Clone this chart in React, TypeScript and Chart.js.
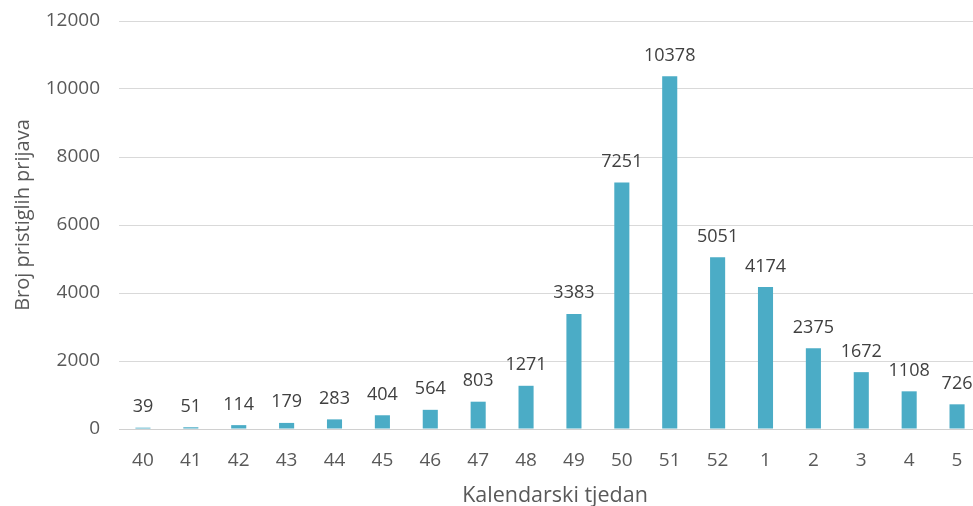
import React, { useEffect, useRef } from "react";
import { Chart, registerables } from "chart.js";

Chart.register(...registerables);

const weeks: string[] = ["40", "41", "42", "43", "44", "45", "46", "47", "48", "49", "50", "51", "52", "1", "2", "3", "4", "5"];
const reports: number[] = [39, 51, 114, 179, 283, 404, 564, 803, 1271, 3383, 7251, 10378, 5051, 4174, 2375, 1672, 1108, 726];
const yTicks: number[] = [0, 2000, 4000, 6000, 8000, 10000, 12000];
const xTitle = "Kalendarski tjedan";
const yTitle = "Broj pristiglih prijava";

const FONT = "'Open Sans', 'DejaVu Sans', sans-serif";

const valueLabels = {
  id: "valueLabels",
  afterDatasetsDraw(chart: any) {
    const ctx = chart.ctx;
    const meta = chart.getDatasetMeta(0);
    const data = chart.data.datasets[0].data as number[];
    ctx.save();
    ctx.font = `18px ${FONT}`;
    ctx.fillStyle = "#404040";
    ctx.textAlign = "center";
    ctx.textBaseline = "alphabetic";
    meta.data.forEach((el: any, i: number) => {
      ctx.fillText(String(data[i]), el.x, el.y - 15.5);
    });
    ctx.restore();
  },
};

const axisTitles = {
  id: "axisTitles",
  afterDraw(chart: any) {
    const ctx = chart.ctx;
    const area = chart.chartArea;
    ctx.save();
    ctx.fillStyle = "#595959";
    ctx.textAlign = "center";
    ctx.textBaseline = "alphabetic";
    ctx.font = `21.5px ${FONT}`;
    ctx.fillText(xTitle, (area.left + area.right) / 2 + 5, 502);
    ctx.translate(29, (area.top + area.bottom) / 2 - 10);
    ctx.rotate(-Math.PI / 2);
    ctx.font = `20px ${FONT}`;
    ctx.fillText(yTitle, 0, 0);
    ctx.restore();
  },
};

export default function App() {
  const ref = useRef<HTMLCanvasElement | null>(null);
  useEffect(() => {
    if (!ref.current) return;
    const chart = new Chart(ref.current, {
      type: "bar",
      data: {
        labels: weeks,
        datasets: [
          {
            data: reports,
            backgroundColor: "#4bacc6",
            borderWidth: 0,
            categoryPercentage: 1,
            barPercentage: 0.315,
          },
        ],
      },
      options: {
        animation: false,
        responsive: false,
        devicePixelRatio: 1,
        layout: { padding: { top: 21, left: 0, right: 0, bottom: 0 } },
        plugins: { legend: { display: false }, tooltip: { enabled: false } },
        scales: {
          x: {
            grid: { display: false, drawTicks: false },
            border: { display: true, color: "#d0d0d0", width: 1 },
            ticks: { color: "#595959", font: { family: FONT, size: 19 }, padding: 20, maxRotation: 0 },
            afterFit: (s: any) => { s.height = 77; s.paddingLeft = 0; s.paddingRight = 0; },
          },
          y: {
            min: 0,
            max: 12000,
            afterBuildTicks: (s: any) => { s.ticks = yTicks.map((v) => ({ value: v })); },
            grid: { color: "#d9d9d9", drawTicks: false, lineWidth: 1 },
            border: { display: false },
            ticks: { color: "#595959", font: { family: FONT, size: 19 }, padding: 19, callback: (v: any) => String(v) },
            afterFit: (s: any) => { s.width = 119; s.paddingTop = 0; s.paddingBottom = 0; },
          },
        },
      },
      plugins: [valueLabels, axisTitles],
    });
    return () => chart.destroy();
  }, []);
  return (
    <div style={{ position: "fixed", left: 0, top: 0, width: 973, height: 506, overflow: "hidden", background: "#fff" }}>
      <canvas ref={ref} width={981} height={506} style={{ width: 981, height: 506, display: "block" }} />
    </div>
  );
}
